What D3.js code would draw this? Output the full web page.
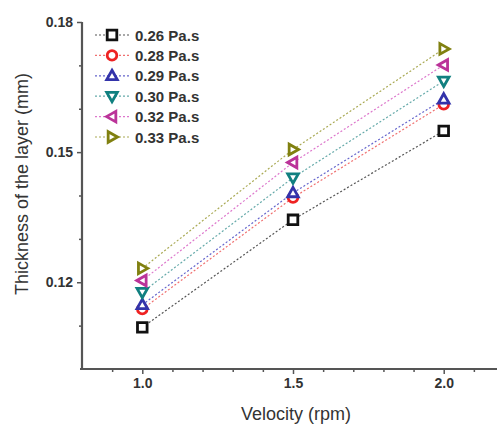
<!DOCTYPE html>
<html><head><meta charset="utf-8">
<script src="https://cdn.jsdelivr.net/npm/d3@7"></script>
<style>body{margin:0;background:#fff}svg{display:block}text{font-family:Arial,"Liberation Sans",sans-serif}</style>
</head><body><svg id="c" width="497" height="427"></svg>
<script>
const velocities = [1.0, 1.5, 2.0];
const seriesNames = ["0.26 Pa.s","0.28 Pa.s","0.29 Pa.s","0.30 Pa.s","0.32 Pa.s","0.33 Pa.s"];
const s026 = [0.1096, 0.1344, 0.1549];
const s028 = [0.1138, 0.1395, 0.1610];
const s029 = [0.1148, 0.1406, 0.1622];
const s030 = [0.1177, 0.1441, 0.1664];
const s032 = [0.1204, 0.1476, 0.1701];
const s033 = [0.1232, 0.1506, 0.1738];
const xTicks = [1.0, 1.5, 2.0];
const yTicks = [0.12, 0.15, 0.18];

const seriesValues = [s026, s028, s029, s030, s032, s033];
const colors = ["#111111","#ee2222","#3333aa","#118080","#bb3399","#808010"];
const lineColors = ["#555555","#f07070","#6666cc","#66aaaa","#dd77cc","#aaaa55"];
const symbols = ["square","circle","triUp","triDown","triLeft","triRight"];

const svg = d3.select("#c");
const x = d3.scaleLinear().domain([0.8, 2.2]).range([82, 504]);
const y = d3.scaleLinear().domain([0.10, 0.18]).range([369, 22]);

function symbolPath(kind, r){
  switch(kind){
    case "square": return `M${-r},${-r}H${r}V${r}H${-r}Z`;
    case "circle": return d3.symbol(d3.symbolCircle, Math.PI*r*r)();
    case "triUp": return `M0,${-r*1.15}L${r*1.1},${r*0.8}L${-r*1.1},${r*0.8}Z`;
    case "triDown": return `M0,${r*1.15}L${r*1.1},${-r*0.8}L${-r*1.1},${-r*0.8}Z`;
    case "triLeft": return `M${-r*1.15},0L${r*0.8},${-r*1.1}L${r*0.8},${r*1.1}Z`;
    case "triRight": return `M${r*1.15},0L${-r*0.8},${-r*1.1}L${-r*0.8},${r*1.1}Z`;
  }
}

// axes
const axisColor = "#555";
const yAxis = svg.append("g").attr("transform","translate(82,0)")
  .call(d3.axisLeft(y).tickValues(yTicks).tickFormat(d3.format(".2f")).tickSize(5).tickPadding(4));
const yMinor = svg.append("g").attr("transform","translate(82,0)")
  .call(d3.axisLeft(y).tickValues([0.11,0.13,0.14,0.16,0.17]).tickFormat("").tickSize(3));
const xAxis = svg.append("g").attr("transform","translate(0,369)")
  .call(d3.axisBottom(x).tickValues(xTicks).tickFormat(d3.format(".1f")).tickSize(5).tickPadding(4));
const xMinor = svg.append("g").attr("transform","translate(0,369)")
  .call(d3.axisBottom(x).tickValues([0.9,1.1,1.2,1.3,1.4,1.6,1.7,1.8,1.9,2.1]).tickFormat("").tickSize(3));
[yAxis,yMinor,xAxis,xMinor].forEach(g=>{
  g.selectAll(".domain").attr("stroke",axisColor).attr("stroke-width",2.2);
  g.selectAll(".tick line").attr("stroke",axisColor).attr("stroke-width",1.5);
  g.selectAll("text").attr("fill","#333").style("font-size","14px").style("font-weight","bold");
});
yAxis.select(".domain").attr("d","M0,22V369");
yMinor.select(".domain").remove();
xAxis.select(".domain").attr("d","M80,0H497");
xMinor.select(".domain").remove();

// axis titles
svg.append("text").attr("transform","translate(28,184) rotate(-90)").attr("text-anchor","middle")
  .style("font-size","18px").attr("fill","#333").text("Thickness of the layer (mm)");
svg.append("text").attr("x",296).attr("y",420).attr("text-anchor","middle")
  .style("font-size","18px").attr("fill","#333").text("Velocity (rpm)");

// lines and markers
const line = d3.line().x((d,i)=>x(velocities[i])).y(d=>y(d));
seriesValues.forEach((vals,k)=>{
  svg.append("path").attr("d",line(vals)).attr("fill","none")
    .attr("stroke",lineColors[k]).attr("stroke-width",1.2).attr("stroke-dasharray","2,2");
});
seriesValues.forEach((vals,k)=>{
  svg.append("g").selectAll("path").data(vals).join("path")
    .attr("transform",(d,i)=>`translate(${x(velocities[i])},${y(d)})`)
    .attr("d",symbolPath(symbols[k],4.8))
    .attr("fill","#fff").attr("stroke",colors[k]).attr("stroke-width",2.8);
});

// legend
const leg = svg.append("g");
seriesNames.forEach((name,k)=>{
  const cy = 35 + k*20.4;
  leg.append("line").attr("x1",95).attr("x2",130).attr("y1",cy).attr("y2",cy)
    .attr("stroke",lineColors[k]).attr("stroke-width",1.2).attr("stroke-dasharray","2,2");
  leg.append("path").attr("transform",`translate(112,${cy})`).attr("d",symbolPath(symbols[k],4.8))
    .attr("fill","#fff").attr("stroke",colors[k]).attr("stroke-width",2.8);
  leg.append("text").attr("x",135).attr("y",cy+5.5).style("font-size","15px").style("font-weight","bold")
    .attr("fill","#333").text(name);
});
</script></body></html>
